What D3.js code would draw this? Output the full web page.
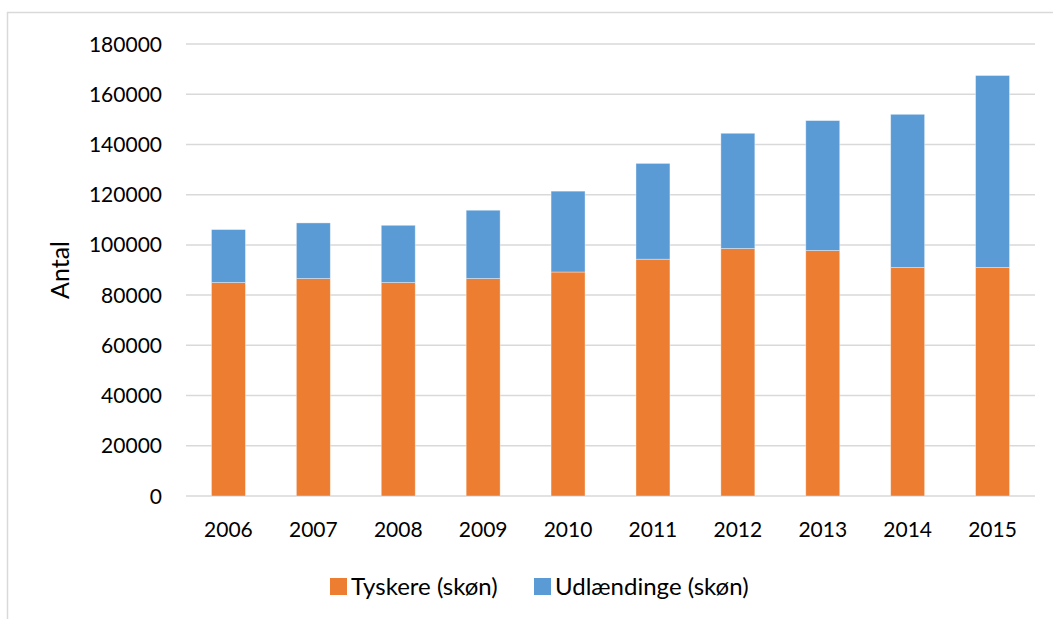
<!DOCTYPE html>
<html>
<head>
<meta charset="utf-8">
<script src="https://cdn.jsdelivr.net/npm/d3@7"></script>
<style>
  html, body { margin: 0; padding: 0; background: #fff; }
  svg { display: block; }
  text { font-family: Lato, "Open Sans", sans-serif; fill: #000; }
</style>
</head>
<body>
<svg id="chart" width="1053" height="619"></svg>
<script>
const years = ["2006","2007","2008","2009","2010","2011","2012","2013","2014","2015"];
const tyskere = [85000, 86600, 85000, 86600, 89200, 94300, 98550, 97750, 91000, 91000];
const udlaendinge = [21100, 22150, 22800, 27200, 32200, 38150, 45900, 51750, 61000, 76450];
const seriesNames = ["Tyskere (skøn)", "Udlændinge (skøn)"];
const seriesColors = ["#ED7D31", "#5B9BD5"];
const yTicks = [0, 20000, 40000, 60000, 80000, 100000, 120000, 140000, 160000, 180000];

const svg = d3.select("#chart");

// chart border
svg.append("rect")
  .attr("x", 7.5).attr("y", 12.5)
  .attr("width", 1100).attr("height", 700)
  .attr("fill", "none").attr("stroke", "#d9d9d9").attr("stroke-width", 1.5);

const plotLeft = 186, plotRight = 1035, plotTop = 44, plotBottom = 496;

const x = d3.scaleBand().domain(years).range([plotLeft, plotRight])
  .paddingInner(0.6).paddingOuter(0.3);
const y = d3.scaleLinear().domain([0, 180000]).range([plotBottom, plotTop]);

// gridlines
svg.append("g").selectAll("line").data(yTicks).join("line")
  .attr("x1", plotLeft).attr("x2", plotRight)
  .attr("y1", d => y(d)).attr("y2", d => y(d))
  .attr("stroke", "#d9d9d9").attr("stroke-width", 1.5);

// y tick labels
svg.append("g").selectAll("text").data(yTicks).join("text")
  .attr("x", 162).attr("y", d => y(d) + 7.5)
  .attr("text-anchor", "end")
  .attr("font-size", 21)
  .text(d => d);

// stacked data
const data = years.map((yr, i) => ({ year: yr, t: tyskere[i], u: udlaendinge[i] }));
const stack = d3.stack().keys(["t", "u"])(data);

svg.append("g").selectAll("g").data(stack).join("g")
  .attr("fill", (d, i) => seriesColors[i])
  .selectAll("rect").data(d => d).join("rect")
  .attr("x", d => x(d.data.year))
  .attr("width", x.bandwidth())
  .attr("y", d => y(d[1]))
  .attr("height", d => y(d[0]) - y(d[1]))
  .attr("stroke", "rgba(255,255,255,0.45)")
  .attr("stroke-width", 0.8);

// x labels
svg.append("g").selectAll("text").data(years).join("text")
  .attr("x", d => x(d) + x.bandwidth() / 2)
  .attr("y", 537)
  .attr("text-anchor", "middle")
  .attr("font-size", 21)
  .text(d => d);

// y axis title
svg.append("text")
  .attr("transform", "translate(69,270) rotate(-90)")
  .attr("text-anchor", "middle")
  .attr("font-size", 25)
  .text("Antal");

// legend
const legendX = [330, 534];
const lg = svg.append("g").selectAll("g").data(seriesNames).join("g")
  .attr("transform", (d, i) => `translate(${legendX[i]},578)`);
lg.append("rect").attr("width", 17).attr("height", 17)
  .attr("fill", (d, i) => seriesColors[i]);
lg.append("text").attr("x", 21).attr("y", 17)
  .attr("font-size", 24)
  .text(d => d);
</script>
</body>
</html>
